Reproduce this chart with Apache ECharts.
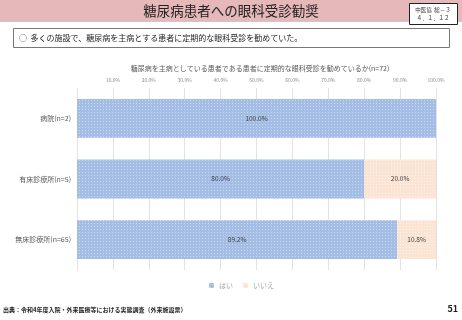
<!DOCTYPE html>
<html>
<head>
<meta charset="utf-8">
<script src="https://cdn.jsdelivr.net/npm/echarts@6/dist/echarts.min.js"></script>
<style>
  html, body { margin: 0; padding: 0; background: #fff; }
  #main { width: 462px; height: 320px; }
</style>
</head>
<body>
<div id="main"></div>
<script>
const categories = ['病院(n=2)', '有床診療所(n=5)', '無床診療所(n=65)'];
const yesValues = [100.0, 80.0, 89.2];
const noValues = [0, 20.0, 10.8];
const seriesNames = ['はい', 'いいえ'];

// dotted fill like the office chart
function dots(bg, fg) {
  const c = document.createElement('canvas');
  c.width = 3; c.height = 3;
  const ctx = c.getContext('2d');
  ctx.fillStyle = bg;
  ctx.fillRect(0, 0, 3, 3);
  ctx.fillStyle = fg;
  ctx.fillRect(1, 1, 1, 1);
  return { image: c, repeat: 'repeat' };
}

const font = '"Noto Sans CJK JP", sans-serif';
const myChart = echarts.init(document.getElementById('main'));

myChart.setOption({
  textStyle: { fontFamily: font },
  graphic: [
    { type: 'rect', shape: { x: 0, y: 0, width: 462, height: 21 }, style: { fill: '#E6B8BA' } },
    { type: 'line', shape: { x1: 0, y1: 21.5, x2: 462, y2: 21.5 }, style: { stroke: '#c9c9c9', lineWidth: 1 } },
    { type: 'text', x: 231, y: 11, style: { text: '糖尿病患者への眼科受診勧奨', fontSize: 13.5, fontFamily: font, fill: '#222', align: 'center', verticalAlign: 'middle' } },
    { type: 'rect', shape: { x: 409.5, y: 3.5, width: 48, height: 21 }, style: { fill: '#fff', stroke: '#222', lineWidth: 1 } },
    { type: 'text', x: 433, y: 10, style: { text: '中医協  総－３', fontSize: 5.5, fontFamily: font, fill: '#333', align: 'center', verticalAlign: 'middle' } },
    { type: 'text', x: 433, y: 18, style: { text: '４．１．１２', fontSize: 5.5, fontFamily: font, fill: '#333', align: 'center', verticalAlign: 'middle' } },
    { type: 'rect', shape: { x: 13.5, y: 28.5, width: 436, height: 19 }, style: { fill: '#fff', stroke: '#777', lineWidth: 1 } },
    { type: 'text', x: 19, y: 38, style: { text: '○  多くの施設で、糖尿病を主病とする患者に定期的な眼科受診を勧めていた。', fontSize: 8, fontFamily: font, fill: '#222', verticalAlign: 'middle' } },
    { type: 'text', x: 260, y: 68, style: { text: '糖尿病を主病としている患者である患者に定期的な眼科受診を勧めているか(n=72)', fontSize: 7, fontFamily: font, fill: '#595959', align: 'center', verticalAlign: 'middle' } },
    { type: 'text', x: 3, y: 310, style: { text: '出典：令和4年度入院・外来医療等における実態調査（外来施設票）', fontSize: 6, fontWeight: 'bold', fontFamily: font, fill: '#222', verticalAlign: 'middle' } },
    { type: 'text', x: 458, y: 309, style: { text: '51', fontSize: 9, fontWeight: 'bold', fontFamily: font, fill: '#222', align: 'right', verticalAlign: 'middle' } }
  ],
  legend: {
    data: seriesNames,
    top: 277,
    left: 204,
    itemWidth: 5,
    itemHeight: 5,
    itemGap: 10,
    textStyle: { fontSize: 7, color: '#a6a6a6', fontFamily: font }
  },
  grid: { left: 77, right: 26, top: 88, bottom: 50 },
  xAxis: {
    type: 'value',
    position: 'top',
    min: 0,
    max: 100,
    interval: 10,
    axisLine: { show: false },
    axisTick: { show: false },
    splitLine: { lineStyle: { color: '#e3e3e3' } },
    axisLabel: {
      fontSize: 5,
      color: '#8c8c8c',
      margin: 5,
      formatter: v => v === 0 ? '' : v.toFixed(1) + '%'
    }
  },
  yAxis: {
    type: 'category',
    data: categories,
    inverse: true,
    axisLine: { lineStyle: { color: '#e3e3e3' } },
    axisTick: { show: false },
    axisLabel: { fontSize: 7, color: '#595959', margin: 6 }
  },
  series: [
    {
      name: seriesNames[0],
      type: 'bar',
      stack: 'total',
      barWidth: '64%',
      data: yesValues,
      itemStyle: { color: dots('#A3BDE5', '#C9D8F0') },
      label: { show: true, position: 'inside', fontSize: 6.5, color: '#404040', formatter: p => p.value.toFixed(1) + '%' }
    },
    {
      name: seriesNames[1],
      type: 'bar',
      stack: 'total',
      barWidth: '64%',
      data: noValues,
      itemStyle: { color: dots('#FBE4D4', '#FEF3EB') },
      label: { show: true, position: 'inside', fontSize: 6.5, color: '#404040', formatter: p => p.value > 0 ? p.value.toFixed(1) + '%' : '' }
    }
  ]
});
</script>
</body>
</html>
